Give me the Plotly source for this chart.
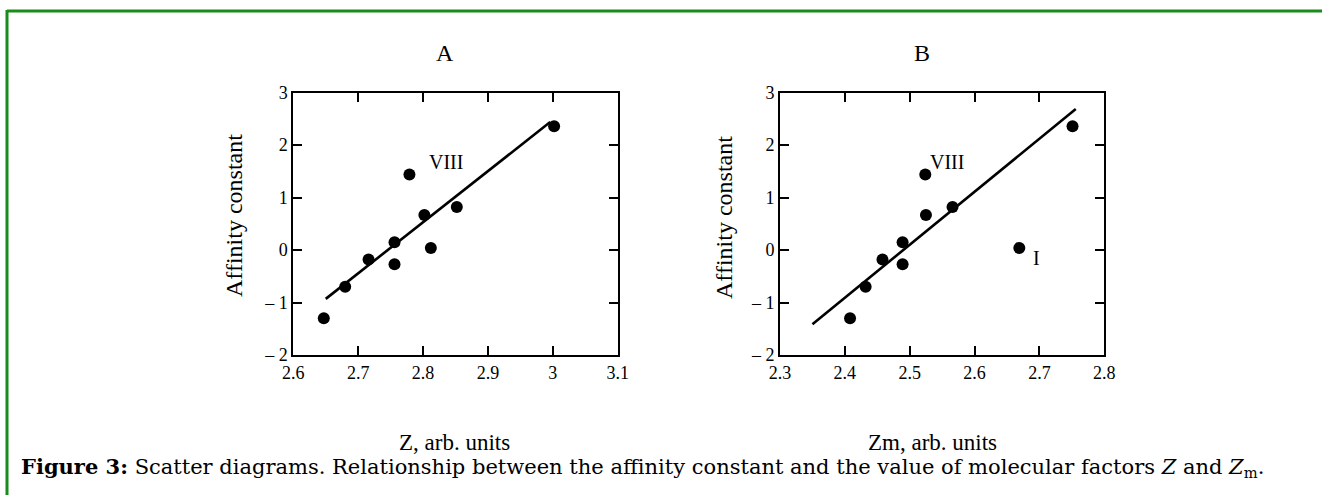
import plotly.graph_objects as go

W, H = 1322, 495

# ---- data ----
z_a = [2.647, 2.680, 2.716, 2.756, 2.756, 2.779, 2.802, 2.812, 2.852, 3.002]
k_a = [-1.30, -0.70, -0.18, 0.15, -0.27, 1.44, 0.67, 0.04, 0.82, 2.36]
fit_a_x = [2.650, 2.996]
fit_a_y = [-0.93, 2.44]

z_m = [2.408, 2.432, 2.458, 2.489, 2.489, 2.524, 2.525, 2.566, 2.669, 2.751]
k_m = [-1.30, -0.70, -0.18, 0.15, -0.27, 1.44, 0.67, 0.82, 0.04, 2.36]
fit_b_x = [2.350, 2.756]
fit_b_y = [-1.415, 2.69]

y_tickvals = [-2, -1, 0, 1, 2, 3]
y_ticktext = ["\u2013 2", "\u2013 1", "0", "1", "2", "3"]
xa_tickvals = [2.6, 2.7, 2.8, 2.9, 3.0, 3.1]
xa_ticktext = ["2.6", "2.7", "2.8", "2.9", "3", "3.1"]
xb_tickvals = [2.3, 2.4, 2.5, 2.6, 2.7, 2.8]
xb_ticktext = ["2.3", "2.4", "2.5", "2.6", "2.7", "2.8"]


def px(x):
    return x / W


def py(y):
    return 1 - y / H


SERIF = "Liberation Serif"
fig = go.Figure()

fig.add_trace(go.Scatter(x=fit_a_x, y=fit_a_y, mode="lines",
                         line=dict(color="black", width=2.6),
                         xaxis="x", yaxis="y", showlegend=False))
fig.add_trace(go.Scatter(x=z_a, y=k_a, mode="markers",
                         marker=dict(color="black", size=12),
                         xaxis="x", yaxis="y", showlegend=False))
fig.add_trace(go.Scatter(x=fit_b_x, y=fit_b_y, mode="lines",
                         line=dict(color="black", width=2.6),
                         xaxis="x2", yaxis="y2", showlegend=False))
fig.add_trace(go.Scatter(x=z_m, y=k_m, mode="markers",
                         marker=dict(color="black", size=12),
                         xaxis="x2", yaxis="y2", showlegend=False))

axis_common = dict(showline=True, mirror="ticks", linecolor="black", linewidth=2,
                   ticks="inside", ticklen=9, tickwidth=2, tickcolor="black",
                   showgrid=False, zeroline=False,
                   tickfont=dict(family=SERIF, size=18, color="black"))

y_top, y_bot = 92.7, 355.0
fig.update_layout(
    width=W, height=H,
    margin=dict(l=0, r=0, t=0, b=0, autoexpand=False),
    paper_bgcolor="white", plot_bgcolor="white",
    xaxis=dict(domain=[px(293.3), px(617.7)], range=[2.6, 3.1],
               tickvals=xa_tickvals, ticktext=xa_ticktext, anchor="y", **axis_common),
    yaxis=dict(domain=[py(y_bot), py(y_top)], range=[-2, 3],
               tickvals=y_tickvals, ticktext=y_ticktext, anchor="x", **axis_common),
    xaxis2=dict(domain=[px(780.0), px(1104.3)], range=[2.3, 2.8],
                tickvals=xb_tickvals, ticktext=xb_ticktext, anchor="y2", **axis_common),
    yaxis2=dict(domain=[py(y_bot), py(y_top)], range=[-2, 3],
                tickvals=y_tickvals, ticktext=y_ticktext, anchor="x2", **axis_common),
)


def label(text, x, y, size, **kw):
    d = dict(text=text, x=px(x), y=py(y), xref="paper", yref="paper",
             xanchor="center", yanchor="middle", showarrow=False,
             font=dict(family=SERIF, size=size, color="black"))
    d.update(kw)
    return d


ann = [
    label("A", 445, 53, 24),
    label("B", 922, 53, 24),
    label("Affinity constant", 234, 216, 24, textangle=-90),
    label("Affinity constant", 724, 218, 24, textangle=-90),
    label("Z, arb. units", 455, 442, 23),
    label("Zm, arb. units", 932, 442, 23),
]
# point labels
ann.append(dict(text="VIII", x=2.836, y=1.68, xref="x", yref="y", showarrow=False,
                xanchor="center", yanchor="middle",
                font=dict(family=SERIF, size=20, color="black")))
ann.append(dict(text="VIII", x=2.557, y=1.68, xref="x2", yref="y2", showarrow=False,
                xanchor="center", yanchor="middle",
                font=dict(family=SERIF, size=20, color="black")))
ann.append(dict(text="I", x=2.695, y=-0.16, xref="x2", yref="y2", showarrow=False,
                xanchor="center", yanchor="middle",
                font=dict(family=SERIF, size=20, color="black")))
# caption
ann.append(dict(text="<b>Figure 3:</b> Scatter diagrams. Relationship between the affinity constant "
                     "and the value of molecular factors <i>Z</i> and <i>Z</i><sub>m</sub>.",
                x=px(19), y=py(467), xref="paper", yref="paper",
                xanchor="left", yanchor="middle",
                showarrow=False, font=dict(family="DejaVu Serif", size=21, color="black")))
fig.update_layout(annotations=ann)

# green frame (left and top)
green = "#1a8c1a"
fig.add_shape(type="line", xref="paper", yref="paper", x0=px(7), x1=px(7), y0=0, y1=py(10),
              line=dict(color=green, width=3))
fig.add_shape(type="line", xref="paper", yref="paper", x0=px(7), x1=1, y0=py(11), y1=py(11),
              line=dict(color=green, width=3))

fig.write_html("out.html",
               config={"displayModeBar": False, "staticPlot": True},
               post_script=("var s=document.createElement('style');"
                            "s.textContent='html,body{margin:0!important;padding:0!important;"
                            "overflow:hidden!important;}"
                            ".plotly-graph-div{position:fixed!important;left:0!important;top:0!important;}';"
                            "document.head.appendChild(s);"))
